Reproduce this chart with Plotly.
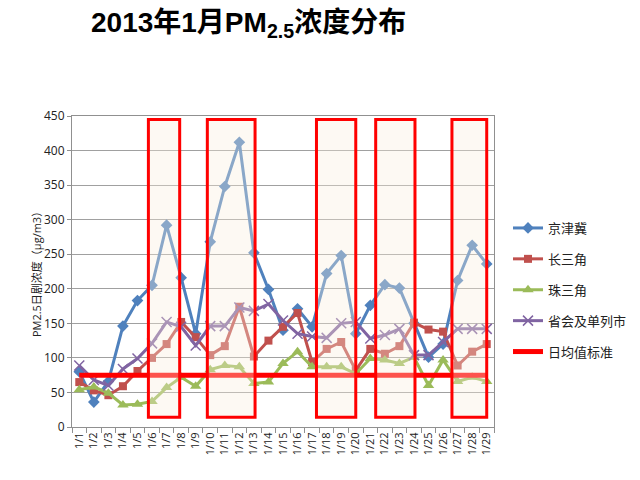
import plotly.graph_objects as go

dates = [f"1/{d}" for d in range(1, 30)]

jingjinji = [80, 36, 66, 146, 183, 205, 292, 216, 135, 268, 348, 412, 252, 199, 140, 171, 145,
             222, 248, 135, 176, 206, 201, 150, 101, 120, 212, 263, 236]
changsanjiao = [65, 53, 46, 59, 81, 100, 120, 152, 130, 104, 117, 174, 102, 125, 145, 165, 94,
                113, 123, 82, 113, 106, 117, 151, 141, 138, 89, 109, 120]
zhusanjiao = [54, 58, 49, 32, 33, 37, 57, 72, 59, 83, 89, 87, 63, 65, 92, 109, 87,
              87, 87, 77, 99, 97, 92, 101, 60, 97, 66, 72, 66]
shenghui = [89, 68, 60, 84, 99, 121, 152, 145, 118, 146, 146, 173, 168, 178, 154, 135, 131,
            129, 150, 152, 128, 133, 142, 104, 104, 123, 142, 142, 142]
standard_value = 75
standard_x = ["1/1", "1/29"]

# highlighted periods (category index spans) and their vertical extent
highlight_spans = [(4.75, 6.9), (8.8, 12.08), (16.3, 19.0), (20.37, 23.07), (25.61, 28.0)]
highlight_y = (14, 445)

series = [
    ("京津冀", jingjinji, "#4F81BD", "diamond", 9, None),
    ("长三角", changsanjiao, "#C0504D", "square", 8, None),
    ("珠三角", zhusanjiao, "#9BBB59", "triangle-up", 10, None),
    ("省会及单列市", shenghui, "#8064A2", "x-thin-open", 10, 1.5),
]

fig = go.Figure()
for i, (name, vals, color, sym, size, mlw) in enumerate(series):
    marker = dict(symbol=sym, size=size, color=color)
    if mlw:
        marker["line"] = dict(width=mlw, color=color)
    fig.add_trace(go.Scatter(
        x=dates, y=vals, name=name, mode="lines+markers",
        line=dict(color=color, width=3), marker=marker,
        legendgroup=f"g{i}",
    ))

fig.add_trace(go.Scatter(
    x=standard_x, y=[standard_value, standard_value], name="日均值标准", mode="lines",
    line=dict(color="#FF0000", width=5), legendgroup="g9",
))

for x0, x1 in highlight_spans:
    fig.add_shape(type="rect", xref="x", yref="y", x0=x0, x1=x1,
                  y0=highlight_y[0], y1=highlight_y[1],
                  line=dict(color="#FF0000", width=3),
                  fillcolor="rgba(250,238,222,0.35)", layer="above")

fig.add_annotation(
    text="<b>2013年1月PM<sub>2.5</sub>浓度分布</b>",
    xref="paper", yref="paper", x=(248 - 72) / 422, y=1, yshift=116 - 24,
    showarrow=False, xanchor="center", yanchor="middle",
    font=dict(size=28, color="#000000", family="Liberation Sans, Noto Sans CJK SC"),
)

fig.update_layout(
    width=640, height=480,
    margin=dict(l=72, r=146, t=116, b=53, autoexpand=False),
    paper_bgcolor="white", plot_bgcolor="white",
    font=dict(family="Open Sans, Noto Sans CJK SC", color="#333333"),
    showlegend=True,
    legend=dict(
        xref="container", yref="container",
        x=508 / 640, y=1 - 290 / 480, xanchor="left", yanchor="middle",
        font=dict(size=13, family="Noto Sans CJK SC", color="#222222"),
        tracegroupgap=11, itemwidth=30, bgcolor="rgba(0,0,0,0)",
    ),
    xaxis=dict(
        type="category", range=[-0.5, 28.5], tickangle=-90,
        tickfont=dict(size=11, color="#222222"),
        showgrid=False, showline=True, linecolor="#909090", linewidth=1, mirror=True,
        ticks="outside", tickson="boundaries", ticklen=5, tickcolor="#909090",
    ),
    yaxis=dict(
        range=[0, 450], dtick=50, tickfont=dict(size=12, color="#222222"),
        showgrid=True, gridcolor="#A0A0A0", gridwidth=1,
        showline=True, linecolor="#909090", linewidth=1, mirror=True,
        ticks="outside", ticklen=4, tickcolor="#909090", zeroline=False,
        title=dict(text="PM2.5日剧浓度（μg/m3）", font=dict(size=11, color="#222222"),
                   standoff=0),
    ),
)

fig.write_html("out.html")
